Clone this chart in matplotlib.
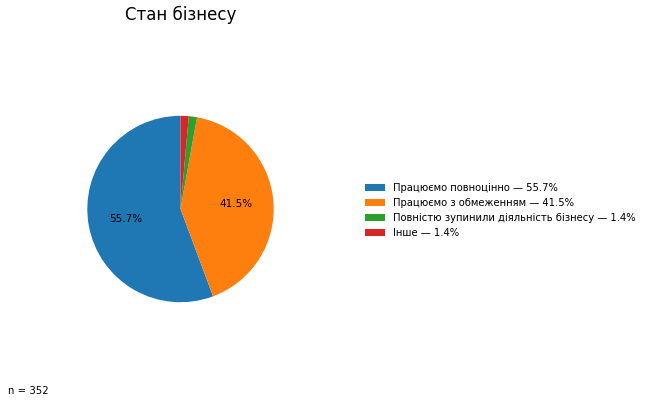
import matplotlib
matplotlib.use("Agg")
import matplotlib.pyplot as plt

labels = ["Працюємо повноцінно", "Працюємо з обмеженням",
          "Повністю зупинили діяльність бізнесу", "Інше"]
counts = [196, 146, 5, 5]
n_total = 352
colors = ["#1f77b4", "#ff7f0e", "#2ca02c", "#d62728"]

shares = [c / sum(counts) * 100 for c in counts]
legend_labels = [f"{lab} — {s:.1f}%" for lab, s in zip(labels, shares)]

fig = plt.figure(figsize=(6.5, 4.04), dpi=100)
ax = fig.add_axes([64 / 650, 14 / 404, 233 / 650, 362 / 404])

wedges, texts, autotexts = ax.pie(
    counts, colors=colors, startangle=90,
    autopct=lambda p: f"{p:.1f}%" if p >= 5 else "",
    textprops={"fontsize": 7.5},
)
ax.set_aspect("equal", adjustable="datalim")
ax.set_title("Стан бізнесу", fontsize=12)

fig.legend(wedges, legend_labels, loc="center left",
           bbox_to_anchor=(0.547, 0.48), frameon=False, fontsize=7.2)

fig.text(0.012, 0.032, f"n = {n_total}", fontsize=7.3, va="center")

fig.savefig("out.png", dpi=100)
